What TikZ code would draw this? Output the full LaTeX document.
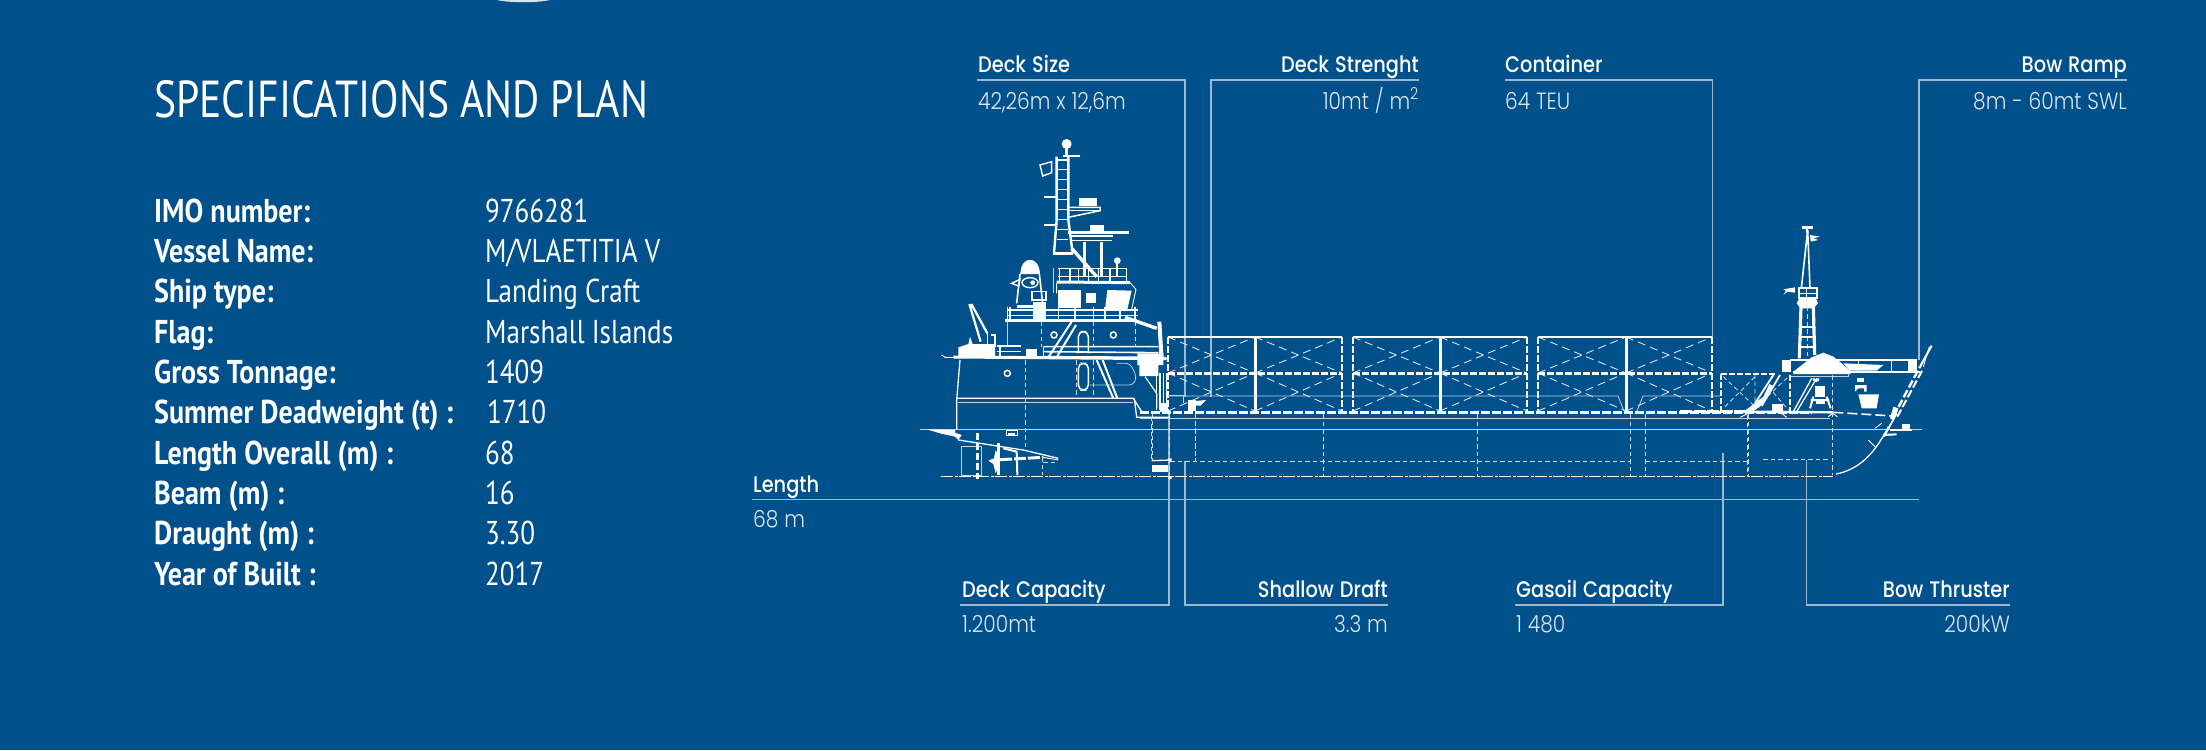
\documentclass[tikz,border=0pt]{standalone}
\usepackage{fontspec}
\setmainfont{PT Sans}
\newfontfamily\ptlight[FakeStretch=0.82]{PT Sans}
\newfontfamily\pttitle[FakeStretch=0.80]{PT Sans}
\newfontfamily\ptbold[FakeStretch=0.85]{PT Sans Bold}
\newfontfamily\labh{Poppins Medium}[FakeStretch=0.86,WordSpace=1.2]
\newfontfamily\labv{Poppins Light}[FakeStretch=0.86,WordSpace=1.05]
\definecolor{bg}{HTML}{00508C}
\definecolor{leader}{HTML}{9DB9D2}
\definecolor{valc}{HTML}{DCE7F1}
\tikzset{
  lead/.style={draw=leader,line width=1.4pt},
  head/.style={anchor=base west,inner sep=0pt,text=white,font=\labh\fontsize{22.5}{26}\selectfont},
  headr/.style={head,anchor=base east},
  val/.style={anchor=base west,inner sep=0pt,text=valc,font=\labv\fontsize{23.5}{27}\selectfont},
  valr/.style={val,anchor=base east},
  kw/.style={anchor=base west,inner sep=0pt,text=white,font=\ptbold\fontsize{33}{38}\selectfont},
  kv/.style={anchor=base west,inner sep=0pt,text=white,font=\ptlight\fontsize{33}{38}\selectfont},
  sw/.style={draw=white,line width=0.9pt},
  sf/.style={draw=white!75!bg,line width=0.8pt},
  sk/.style={draw=white,line width=2.4pt},
  sd/.style={draw=white!80!bg,line width=0.85pt,dash pattern=on 4.5pt off 3pt},
  sx/.style={draw=white!85!bg,line width=0.9pt,dash pattern=on 8pt off 5pt},
  skd/.style={draw=white,line width=2.6pt,dash pattern=on 7pt off 2pt},
  zA/.style={shift={(900,120)},x=0.33333pt,y=-0.33333pt},
  zB/.style={shift={(900,340)},x=0.33333pt,y=-0.33333pt},
  zC/.style={shift={(1680,200)},x=0.33333pt,y=-0.33333pt},
}
\newcommand{\bayrow}[3]{%
  \draw[sx] (#1,337)--(#2,373) (#1,373)--(#2,337) (#1,373)--(#2,411) (#1,411)--(#2,373);
}
\newcommand{\contpair}[3]{%
  \bayrow{#1}{#2}{}\bayrow{#2}{#3}{}
  \draw[sw,line width=1.3pt] (#1,337)--(#3,337);
  \draw[skd,line width=3pt] (#1,373)--(#3,373);
  \draw[sk,line width=3pt] (#2,337)--(#2,411);
  \draw[skd,line width=2.4pt] (#1,337)--(#1,411);
  \draw[skd,line width=2.4pt] (#3,337)--(#3,411);
}
\begin{document}
\begin{tikzpicture}[x=1pt,y=-1pt]
\path[use as bounding box,fill=bg] (0,0) rectangle (2206,750);
\fill[white!85!bg] (497,0) .. controls (510,3) and (537,3) .. (550,0) -- cycle;

% ---- left text
\node[anchor=base west,inner sep=0pt,text=white,font=\pttitle\fontsize{52}{60}\selectfont] (title) at (154,117) {SPECIFICATIONS AND PLAN};
\node[kw] (k1) at (154,222) {IMO number:};
\node[kw] (k2) at (154,262.3) {Vessel Name:};
\node[kw] (k3) at (154,302.6) {Ship type:};
\node[kw] (k4) at (154,343) {Flag:};
\node[kw] (k5) at (154,383.3) {Gross Tonnage:};
\node[kw] (k6) at (154,423.6) {Summer Deadweight (t) :};
\node[kw] (k7) at (154,464) {Length Overall (m) :};
\node[kw] (k8) at (154,504.3) {Beam (m) :};
\node[kw] (k9) at (154,544.6) {Draught (m) :};
\node[kw] (k10) at (154,585) {Year of Built :};
\node[kv] (v1) at (485,222) {9766281};
\node[kv] (v2) at (485,262.3) {M/VLAETITIA V};
\node[kv] (v3) at (485,302.6) {Landing Craft};
\node[kv] (v4) at (485,343) {Marshall Islands};
\node[kv] (v5) at (485,383.3) {1409};
\node[kv] (v6) at (487,423.6) {1710};
\node[kv] (v7) at (485,464) {68};
\node[kv] (v8) at (485,504.3) {16};
\node[kv] (v9) at (485,544.6) {3.30};
\node[kv] (v10) at (485,585) {2017};

% ---- labels
\node[head] (h1) at (978,72) {Deck Size};
\node[val] (w1) at (978,109) {42,26m x 12,6m};
\node[headr] (h2) at (1419,72) {Deck Strenght};
\node[valr] (w2) at (1419,109) {10mt / m\textsuperscript{2}};
\node[head] (h3) at (1505,72) {Container};
\node[val] (w3) at (1505,109) {64 TEU};
\node[headr] (h4) at (2127,72) {Bow Ramp};
\node[valr] (w4) at (2127,109) {8m - 60mt SWL};
\node[head] (h5) at (753,492) {Length};
\node[val] (w5) at (753,527) {68 m};
\node[head] (h6) at (962,597) {Deck Capacity};
\node[val] (w6) at (962,632) {1.200mt};
\node[headr] (h7) at (1388,597) {Shallow Draft};
\node[valr] (w7) at (1388,632) {3.3 m};
\node[head] (h8) at (1516,597) {Gasoil Capacity};
\node[val] (w8) at (1516,632) {1 480};
\node[headr] (h9) at (2010,597) {Bow Thruster};
\node[valr] (w9) at (2010,632) {200kW};

% ---- leaders
\coordinate (a1) at (977,80);\coordinate (b1) at (1185,80);\coordinate (c1) at (1185,397);
\coordinate (a2) at (1419,80);\coordinate (b2) at (1211,80);\coordinate (c2) at (1211,397);
\coordinate (a3) at (1505,80);\coordinate (b3) at (1712.5,80);\coordinate (c3) at (1712.5,337);
\coordinate (a4) at (2127,80);\coordinate (b4) at (1919,80);\coordinate (c4) at (1919,360);
\coordinate (a5) at (752,499.5);\coordinate (b5) at (1919,499.5);
\coordinate (a6) at (960,605);\coordinate (b6) at (1169,605);\coordinate (c6) at (1169,413);
\coordinate (a7) at (1388,605);\coordinate (b7) at (1185,605);\coordinate (c7) at (1185,461);
\coordinate (a8) at (1515,605);\coordinate (b8) at (1723,605);\coordinate (c8) at (1723,453);
\coordinate (a9) at (2010,605);\coordinate (b9) at (1806.5,605);\coordinate (c9) at (1806.5,460);
\foreach \i in {1,2,3,4,6,7,8,9} \draw[lead,line join=miter] (a\i)--(b\i)--(c\i);
\draw[lead] (a5)--(b5);

% ---- containers and hull lines
\contpair{1168}{1255}{1342}
\contpair{1353}{1440}{1527}
\contpair{1538}{1626}{1712}
\draw[sk,line width=3pt,dash pattern=on 9pt off 2pt] (1140,412)--(1812,412);
\draw[sf] (1168,396)--(1618,396)--(1624,411) (1637,411)--(1643,396)--(1720,396);
\draw[sf] (1140,418)--(1830,418);
\draw[sf] (920,429)--(1922,429);
\draw[sd] (1170,461)--(1630,461) (1645,461)--(1747,461);
\draw[sw,dash pattern=on 12pt off 1.5pt on 3pt off 1.5pt] (941,476)--(1833,476);
\foreach \x in {1195,1323,1477,1630,1645,1748} \draw[sd] (\x,414)--(\x,\ifnum\x=1195 461\else 476\fi);
\draw[sd] (1152,413)--(1152,461);
\draw[sd] (1169,413)--(1169,478);
\fill[white] (1153,465) rectangle (1168,472);

% ---- stern superstructure
\begin{scope}[zA]
 \draw[sk] (470,110)--(470,300)--(462,400);
 \draw[sk] (505,110)--(505,300)--(518,400);
 \foreach \y in {120,148,178,208,238,268,298,328,358} \draw[sw,line width=1.5pt] (470,\y)--(505,\y);
 \draw[sk,line width=3pt] (460,400)--(520,400);
 \fill[white] (500,72) circle (5pt);
 \draw[sk] (500,85)--(500,110) (490,108)--(540,108);
 \draw[sw,line width=1.4pt] (420,135)--(455,125)--(455,158)--(428,168)--cycle;
 \draw[sk,line width=2pt] (432,232)--(468,232) (432,315)--(468,315);
 \draw[sw,line width=1.5pt] (505,262)--(600,262)--(600,272)--(505,292);
 \fill[white] (538,235) rectangle (590,258);
 \draw[sw] (505,272)--(600,272);
 \draw[sk,line width=3pt] (505,337)--(688,337);
 \fill[white] (570,316) rectangle (612,335);
 \draw[sw,line width=1.5pt] (510,348)--(640,348) (510,362)--(635,362);
 \draw[sk,line width=3pt] (553,365)--(553,470) (605,365)--(605,470);
 \draw[sk,line width=3.4pt] (515,385)--(590,470);
 \draw[sw,line width=1.5pt] (475,445)--(680,445) (475,470)--(680,470);
 \foreach \x in {478,510,535,565,595,630,680} \draw[sw,line width=1.5pt] (\x,445)--(\x,485);
 \draw[sk,line width=3pt] (470,486)--(690,488);
 \fill[white] (652,422) circle (3.4pt);
 \draw[sk,line width=1.8pt] (652,425)--(652,470);
 \draw[sw] (470,490)--(470,520) (690,488)--(708,508)--(695,568);
 \fill[white] (475,510) rectangle (543,565);
 \fill[white] (558,518) rectangle (588,550);
 \fill[white] (622,510)--(695,512)--(682,568)--(615,568)--cycle;
 \draw[sf] (460,445)--(460,520);
 \draw[sw,line width=1.6pt] (350,550)--(360,462) (428,550)--(418,462);
 \fill[white] (361,462) .. controls (362,405) and (418,405) .. (420,462) -- cycle;
 \draw[sw,line width=1.4pt] (390,488) ellipse (24 and 15);
 \fill[white] (398,488) circle (2.4pt);
 \draw[sw,line width=1.4pt] (335,490)--(360,478)--(356,498)--cycle;
 \draw[sk,line width=3.4pt] (315,602)--(710,602);
 \draw[sw,line width=1.5pt] (322,570)--(715,570) (322,586)--(715,586);
 \foreach \x in {322,330,475,525,580,615,660,705} \draw[sw,line width=1.2pt] (\x,560)--(\x,600);
 \fill[white] (400,545) rectangle (438,600);
 \draw[sw,line width=1.6pt] (396,515) rectangle (438,540);
 \draw[sk] (350,560)--(410,560);
 \draw[sf] (322,602)--(322,680);
 \draw[sd] (425,605)--(425,680) (580,605)--(580,680) (705,605)--(705,680);
 \draw[sw,line width=2pt] (445,712)--(515,605) (470,712)--(528,615);
 \draw[sw,line width=1.5pt] (462,645) circle (3pt) (640,645) circle (3pt);
 \draw[sw,line width=1.5pt,rounded corners=5pt] (535,700)--(535,635)--(565,635)--(565,700);
 \draw[sk,line width=3.4pt] (675,592)--(770,625);
 \draw[sk,line width=4pt] (778,605)--(785,720);
 \draw[sw,line width=1.6pt] (430,680)--(775,680) (430,695)--(775,698) (430,710)--(775,712);
 \draw[sw,line width=1.6pt] (290,678)--(362,678) (290,695)--(362,695);
 \draw[sw,line width=1.6pt] (300,678)--(300,712) (430,680)--(430,712);
 \fill[white] (378,688) rectangle (412,715);
 \draw[sk,line width=3pt] (160,711)--(800,716);
 \draw[sw,line width=2.2pt] (208,552)--(242,665) (214,552)--(262,640);
 \draw[sw,line width=1.5pt] (262,640)--(262,680) (272,645)--(285,645)--(285,680);
 \fill[white] (175,682)--(205,672)--(210,650)--(218,672)--(285,672)--(285,710)--(175,715)--cycle;
 \draw[sw] (125,705)--(135,712)--(160,712);
\end{scope}
\begin{scope}[zB]
 \draw[sw,line width=1.3pt] (180,60)--(170,180)--(170,268);
 \draw[sw,line width=1.3pt] (170,175)--(700,175)--(725,215);
 \draw[sf] (175,188)--(700,188);
 \draw[sw,line width=1.3pt] (703,175)--(710,232)--(810,232);
 \draw[sd] (375,60)--(375,330);
 \draw[sw,line width=1.5pt] (322,100) circle (3pt);
 \draw[sw,line width=1.5pt,rounded corners=5pt] (535,150)--(535,70)--(565,70)--(565,150)--cycle;
 \draw[sw,line width=2pt] (590,60)--(640,175) (608,60)--(652,175);
 \draw[sf,rounded corners=4pt] (650,70)--(690,70)--(710,110)--(700,135)--(570,135);
 \draw[sd] (530,60)--(530,175) (580,60)--(580,175);
 \fill[white] (712,40) rectangle (790,75) (718,75) rectangle (775,108);
 \foreach \x in {770,780,790,800} \draw[sw,line width=1.4pt] (\x,100)--(\x,210);
 \draw[sw,line width=1.2pt] (735,110)--(770,160)--(770,205);
 \fill[white] (780,190) rectangle (805,215);
 \draw[sf] (805,165)--(850,165)--(850,190);
 \fill[white] (865,180) rectangle (887,212);
 \fill[white] (887,183)--(918,180)--(902,197)--(887,197)--cycle;
 \fill[white] (80,268)--(165,270)--(165,278)--(185,285)--(175,300)--(165,290)--(120,280)--cycle;
 \draw[sw,line width=1.6pt] (320,272) rectangle (353,286);
 \fill[white] (325,280) rectangle (345,286);
 \draw[sf] (183,320) rectangle (245,405);
 \draw[sk,dash pattern=on 7pt off 3pt] (232,280)--(232,418);
 \draw[sw,line width=1.3pt] (175,300)--(370,330)--(475,355);
 \draw[sk,line width=3pt] (295,310)--(295,405);
 \draw[sk,line width=2pt] (310,325)--(350,335)--(352,405);
 \fill[white] (265,362)--(282,355)--(287,330)--(298,355)--(298,370)--(287,400)--(280,372)--cycle;
 \draw[sk,line width=3pt,dash pattern=on 12pt off 2pt] (300,359)--(430,352);
 \draw[sw] (430,352)--(475,360);
 \draw[sd] (430,367)--(475,367) (428,352)--(428,405);
 \draw[sd] (755,230)--(755,362) (885,220)--(885,360);
 \draw[sw,line width=1.3pt] (755,362)--(810,360);
 \fill[white] (755,375) rectangle (805,395);
 \fill[white] (805,408) rectangle (815,417) (805,355) rectangle (815,364);
\end{scope}

% ---- bow
\begin{scope}[zC]
 \draw[sw,line width=1.6pt] (383,90)--(364,265) (383,90)--(390,265);
 \draw[sk,line width=2.6pt] (366,82)--(398,82);
 \draw[sk,line width=2pt] (380,85)--(382,100);
 \fill[white] (390,105)--(420,110)--(400,115)--(415,120)--(392,125)--cycle;
 \draw[sw,line width=2pt] (358,265) rectangle (410,293);
 \draw[sw,line width=1.6pt] (358,280)--(410,280) (380,265)--(380,293);
 \fill[white] (310,268)--(345,262)--(345,278)--(322,275)--(310,285)--(318,272)--cycle;
 \fill[white] (350,310)--(358,295)--(408,295)--(414,310)--(400,325)--(362,325)--cycle;
 \draw[sk,line width=3.2pt] (363,320)--(358,475) (400,320)--(404,465);
 \draw[sd] (382,320)--(382,470);
 \draw[sw,line width=1.8pt] (358,410)--(404,410) (358,440)--(404,440);
 \draw[sw,line width=1.8pt] (358,380)--(404,380);
 \fill[white] (340,515)--(395,472)--(430,458)--(460,470)--(485,490)--(510,512)--(512,522)--(340,522)--cycle;
 \draw[sk,line width=2.6pt] (340,516)--(720,516);
 \draw[sw,line width=1.5pt] (330,480)--(710,480) (535,480)--(535,512) (635,480)--(635,512);
 \fill[white] (490,490)--(610,495)--(590,512)--(510,512)--cycle;
 \fill[white] (305,480) rectangle (332,515);
 \fill[white] (685,480) rectangle (712,512);
 \draw[sw,line width=2pt,dash pattern=on 6pt off 2pt] (122,522)--(290,522) (122,522)--(122,632);
 \draw[sd] (135,620)--(225,530) (130,530)--(225,620) (225,522)--(225,630);
 \draw[sf] (330,530)--(505,530)--(505,520);
 \draw[sw,line width=2pt,dash pattern=on 6pt off 2pt] (330,525)--(330,632);
 \draw[sd] (230,620)--(325,530) (265,560)--(325,630);
 \draw[sw,line width=1.8pt] (225,610)--(280,525) (245,618)--(300,525);
 \fill[white] (195,632)--(250,590)--(268,552)--(280,558)--(240,620)--(215,636)--cycle;
 \fill[white] (275,612) rectangle (308,632);
 \draw[sw,line width=1.3pt] (340,635)--(395,535) (350,635)--(410,535);
 \fill[white] (405,558) rectangle (435,590);
 \draw[sw,line width=2pt] (400,535) arc (180:0:8) (400,590)--(390,625) (440,590)--(452,625) (392,600)--(448,600);
 \fill[white] (408,600) rectangle (435,612);
 \draw[sd] (458,525)--(458,825);
 \fill[white] (532,535) rectangle (552,545);
 \fill[white] (525,555)--(560,555)--(560,575)--(552,575)--(552,565)--(535,565)--(525,575)--cycle;
 \fill[white] (535,583)--(597,583)--(590,625)--(545,625)--cycle;
 \draw[sk,line width=2.6pt,dash pattern=on 12pt off 1.5pt] (0,635)--(210,635);
 \draw[sk,line width=2.4pt] (210,635)--(460,637);
 \draw[sw,line width=1.6pt,dash pattern=on 10pt off 4pt] (460,637)--(640,648);
 \draw[sd] (203,645)--(203,830);
 \draw[sd] (250,778)--(445,778);
 \draw[sw] (180,652)--(205,640) (305,640)--(320,652) (445,650)--(458,640)--(472,650);
 \draw[sw,line width=1.8pt] (612,710)--(650,640);
 \draw[sk,line width=2.4pt,dash pattern=on 8pt off 3pt] (640,650)--(720,500);
 \draw[sk,line width=2pt,dash pattern=on 8pt off 3pt] (652,650)--(730,505);
 \draw[sk,line width=2pt] (720,500)--(755,437);
 \draw[sw] (730,500)--(748,440);
 \fill[white] (640,620)--(655,625)--(640,660)--(630,655)--cycle;
 \draw[sw,line width=1.3pt] (468,822) .. controls (530,810) and (580,770) .. (625,680);
 \draw[sw] (565,720)--(585,740) (585,685)--(605,670);
 \draw[sk,line width=2pt] (610,705)--(650,703);
 \fill[white] (665,672) rectangle (690,692);
 \draw[sk,line width=1.6pt] (630,690)--(695,690);
\end{scope}
\end{tikzpicture}
\end{document}
